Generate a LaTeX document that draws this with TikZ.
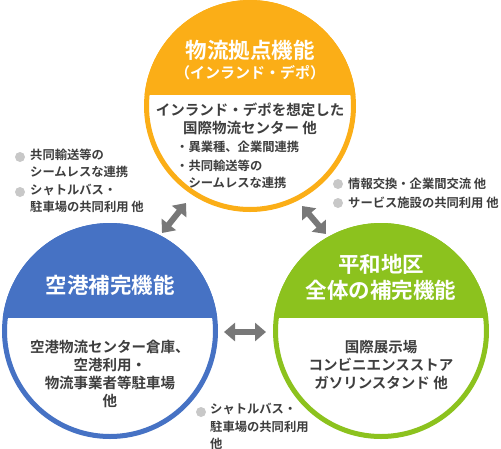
\documentclass[tikz,border=0pt]{standalone}
\usepackage{fontspec}
\setmainfont{Noto Sans CJK JP}[BoldFont={Noto Sans CJK JP Bold}]
\usetikzlibrary{arrows.meta}
\definecolor{corange}{HTML}{FBAE17}
\definecolor{cblue}{HTML}{4672C4}
\definecolor{cgreen}{HTML}{8CC21E}
\definecolor{ctext}{HTML}{3E3E3E}
\definecolor{cdot}{HTML}{C8C8C8}
\definecolor{carrow}{HTML}{787878}
\tikzset{
  ttl/.style={text=white, font=\bfseries\fontsize{21.5}{26}\selectfont, align=center, inner sep=0pt},
  sub/.style={text=white, font=\bfseries\fontsize{15}{18}\selectfont, align=center, inner sep=0pt},
  body/.style={text=ctext, font=\bfseries\fontsize{14.5}{18}\selectfont, align=center, inner sep=0pt},
  side/.style={text=ctext, font=\bfseries\fontsize{12.3}{16.5}\selectfont, align=left, inner sep=0pt, anchor=west},
  dot/.style={circle, fill=cdot, minimum size=10pt, inner sep=0pt},
  dbl/.style={draw=carrow, line width=6pt, {Triangle[width=18pt,length=11pt]}-{Triangle[width=18pt,length=11pt]}},
}
\newcommand{\bandcircle}[5]{% center x, y, radius, band y, colour
  \fill[white] (#1,#2) circle[radius=#3];
  \begin{scope}
    \clip (#1,#2) circle[radius=#3];
    \fill[#5] (#1-#3-5,#2-#3-5) rectangle (#1+#3+5,#4);
  \end{scope}
  \draw[#5, line width=5pt] (#1,#2) circle[radius=#3-2.5];
}
\begin{document}
\begin{tikzpicture}[x=1pt,y=-1pt]
\useasboundingbox (0,0) rectangle (501,448);
% circles
\bandcircle{250}{106}{106}{95}{corange}
\bandcircle{110}{331}{108}{318}{cblue}
\bandcircle{381}{331}{108}{318}{cgreen}
\node[circle, minimum size=212pt] (top) at (250,106) {};
\node[circle, minimum size=216pt] (left) at (110,331) {};
\node[circle, minimum size=216pt] (right) at (381,331) {};
% top circle texts
\node[ttl] (t1) at (250,50) {物流拠点機能};
\node[sub] (t2) at (250,73) {（インランド・デポ）};
\node[body] (t3) at (250,119) {インランド・デポを想定した\\国際物流センター 他};
\node[side, anchor=north west] (t4) at (176,141) {・異業種、企業間連携};
\node[side, anchor=north west] (t5) at (176,160) {・共同輸送等の\\\hspace{12.3pt}シームレスな連携};
% left circle texts
\node[ttl] (l1) at (110,285) {空港補完機能};
\node[body] (l2) at (110,373.5) {空港物流センター倉庫、\\空港利用・\\物流事業者等駐車場\\他};
% right circle texts
\node[ttl] (r1) at (381,277.5) {平和地区\\全体の補完機能};
\node[body] (r2) at (381,365) {国際展示場\\コンビニエンスストア\\ガソリンスタンド 他};
% side notes left
\node[dot] (d1) at (20,157) {};
\node[side, anchor=north west] (s1) at (30,149) {共同輸送等の\\シームレスな連携};
\node[dot] (d2) at (20,192) {};
\node[side, anchor=north west] (s2) at (30,184) {シャトルバス・\\駐車場の共同利用 他};
% side notes right
\node[dot] (d3) at (338,184) {};
\node[side] (s3) at (348,184) {情報交換・企業間交流 他};
\node[dot] (d4) at (338,203) {};
\node[side] (s4) at (348,203) {サービス施設の共同利用 他};
% bottom note
\node[dot] (d5) at (201,412) {};
\node[side, anchor=north west, font=\bfseries\fontsize{12.3}{17.5}\selectfont] (s5) at (210,403) {シャトルバス・\\駐車場の共同利用\\他};
% arrows
\coordinate (a1s) at (162,233);
\coordinate (a1e) at (186,203);
\coordinate (a2s) at (302,206);
\coordinate (a2e) at (326,234);
\coordinate (a3s) at (224,332);
\coordinate (a3e) at (266,332);
\draw[dbl] (a1s) -- (a1e);
\draw[dbl] (a2s) -- (a2e);
\draw[dbl] (a3s) -- (a3e);
\end{tikzpicture}
\end{document}
